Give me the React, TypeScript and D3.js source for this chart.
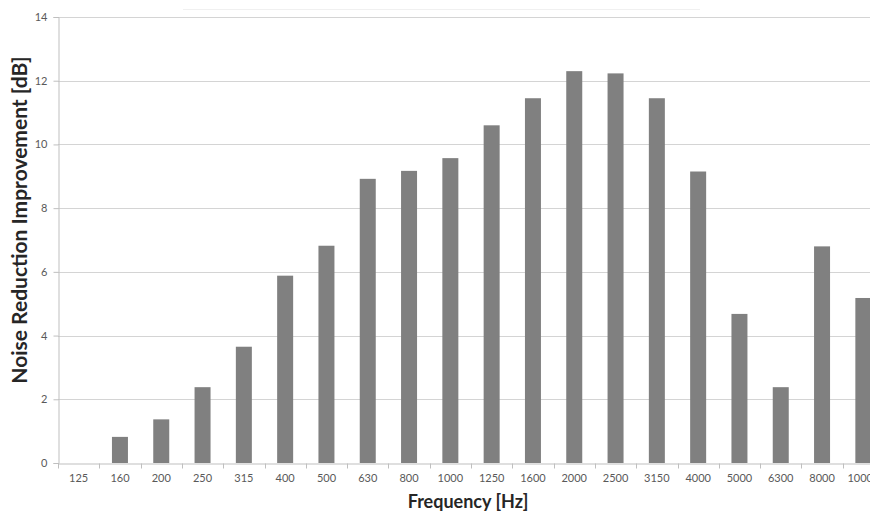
import React, { useEffect, useRef } from "react";
import * as d3 from "d3";

// frequency bands (the last label is cut off by the image edge in the original)
const bands = ["125", "160", "200", "250", "315", "400", "500", "630", "800", "1000",
  "1250", "1600", "2000", "2500", "3150", "4000", "5000", "6300", "8000", "10000"];
const improvement = [0, 0.82, 1.37, 2.38, 3.65, 5.88, 6.82, 8.92, 9.17, 9.57,
  10.6, 11.45, 12.3, 12.23, 11.45, 9.15, 4.68, 2.38, 6.8, 5.18];
const yTicks = [0, 2, 4, 6, 8, 10, 12, 14];

export default function App() {
  const ref = useRef<SVGSVGElement>(null);

  useEffect(() => {
    const width = 870, height = 512;
    const margin = { top: 17, left: 58, bottom: 49 };
    const svg = d3.select(ref.current);
    svg.selectAll("*").remove();

    const font = "Lato, 'Open Sans', sans-serif";

    const x = d3.scaleBand()
      .domain(bands)
      .range([margin.left, margin.left + 41.3 * bands.length]);

    const y = d3.scaleLinear()
      .domain([0, 14])
      .range([height - margin.bottom, margin.top]);

    // faint line at the top
    svg.append("line")
      .attr("x1", 183).attr("x2", 700)
      .attr("y1", 9.5).attr("y2", 9.5)
      .attr("stroke", "#f0f0f0");

    // gridlines
    svg.append("g")
      .selectAll("line")
      .data(yTicks.filter(d => d > 0))
      .join("line")
      .attr("x1", margin.left).attr("x2", width)
      .attr("y1", d => Math.round(y(d)) + 0.5)
      .attr("y2", d => Math.round(y(d)) + 0.5)
      .attr("stroke", "#d4d4d4");

    // bars
    const bw = 16;
    svg.append("g")
      .selectAll("rect")
      .data(improvement)
      .join("rect")
      .attr("x", (d, i) => x(bands[i])! + x.bandwidth() / 2 - bw / 2)
      .attr("width", bw)
      .attr("y", d => y(d))
      .attr("height", d => y(0) - y(d))
      .attr("fill", "#808080");

    // y axis
    const yAxis = svg.append("g")
      .attr("transform", `translate(${margin.left + 0.5},0)`)
      .call(d3.axisLeft(y).tickValues(yTicks).tickSize(5).tickPadding(6));
    yAxis.select(".domain").attr("stroke", "#bfbfbf");
    yAxis.selectAll(".tick line").attr("stroke", "#bfbfbf");
    yAxis.selectAll(".tick text")
      .attr("fill", "#595959")
      .style("font-family", font)
      .style("font-size", "11px");

    // x axis
    const yBase = Math.round(y(0)) + 0.5;
    const xAxis = svg.append("g")
      .attr("transform", `translate(0,${yBase})`)
      .call(d3.axisBottom(x).tickSize(0).tickPadding(11));
    xAxis.select(".domain").attr("stroke", "#bfbfbf");
    xAxis.selectAll(".tick text")
      .attr("fill", "#595959")
      .style("font-family", font)
      .style("font-size", "11px");
    // tick marks between the bands
    svg.append("g")
      .selectAll("line")
      .data(bands)
      .join("line")
      .attr("x1", d => Math.round(x(d)!) + 0.5)
      .attr("x2", d => Math.round(x(d)!) + 0.5)
      .attr("y1", yBase).attr("y2", yBase + 5)
      .attr("stroke", "#bfbfbf");

    // axis titles
    svg.append("text")
      .attr("x", 468).attr("y", 508)
      .attr("text-anchor", "middle")
      .style("font-family", font)
      .style("font-size", "18px")
      .style("font-weight", "bold")
      .attr("fill", "#262626")
      .text("Frequency [Hz]");

    svg.append("text")
      .attr("transform", "translate(27,220) rotate(-90)")
      .attr("text-anchor", "middle")
      .style("font-family", font)
      .style("font-size", "21px")
      .style("font-weight", "bold")
      .attr("fill", "#262626")
      .text("Noise Reduction Improvement [dB]");
  }, []);

  return (
    <svg ref={ref} width={870} height={512}
      style={{ position: "absolute", left: 0, top: 0, background: "#fff" }} />
  );
}
